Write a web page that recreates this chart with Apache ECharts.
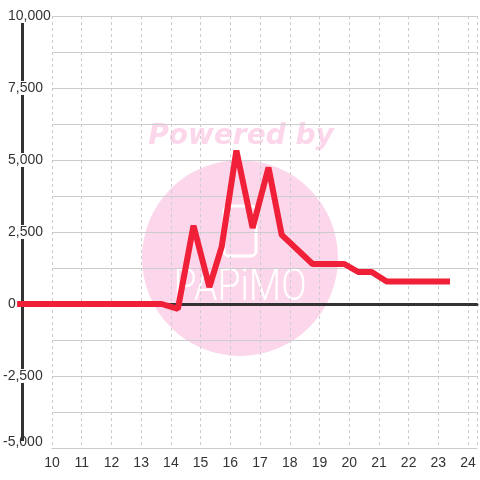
<!DOCTYPE html>
<html>
<head>
<meta charset="utf-8">
<style>html,body{margin:0;padding:0;background:#fff}#c{width:480px;height:480px}</style>
<script src="https://cdn.jsdelivr.net/npm/echarts@6/dist/echarts.min.js"></script>
</head>
<body>
<div id="c"></div>
<script>
const hours  = [8.87, 13.69, 14.23, 14.75, 15.28, 15.69, 16.18, 16.72, 17.25, 17.69, 18.72, 19.78, 20.24, 20.69, 21.19, 23.3];
const values = [0, 0, -170, 2720, 590, 1990, 5330, 2640, 4740, 2400, 1390, 1390, 1110, 1110, 780, 780];
const yTickStep = 2500;
const Y_MIN = -5000, Y_MAX = 10000;

const chart = echarts.init(document.getElementById('c'), null, {renderer: 'canvas'});
const data = hours.map((h, i) => [h, values[i]]);

// main grid: x 10..24.3 over 51..480 => 30 px per hour; the line grid extends 34px further left
const X_MIN = 10, X_MAX = 24.3, GRID_LEFT = 51, LINE_LEFT = 17;
const pxPerUnit = (480 - GRID_LEFT) / (X_MAX - X_MIN);
const lineMin = X_MIN - (GRID_LEFT - LINE_LEFT) / pxPerUnit;

const fmt = v => v.toLocaleString('en-US');

chart.setOption({
  animation: false,
  grid: [
    {left: GRID_LEFT, right: 0, top: 16, bottom: 32, containLabel: false},
    {left: LINE_LEFT, right: 0, top: 16, bottom: 32, containLabel: false}
  ],
  graphic: [
    {type: 'circle', z: -10, silent: true, shape: {cx: 240, cy: 258, r: 98}, style: {fill: '#fcd6ea'}},
    {type: 'text', z: -10, silent: true, style: {text: 'Powered by', x: 241, y: 137, font: 'italic bold 28px "DejaVu Sans"', fill: '#fcd6ea', align: 'center', verticalAlign: 'middle'}},
    {type: 'rect', z: -9, silent: true, shape: {x: 224, y: 206, width: 32, height: 50, r: 5}, style: {fill: 'none', stroke: '#ffffff', lineWidth: 3}},
    {type: 'text', z: -9, silent: true, x: 240, y: 289, scaleX: 0.85, style: {text: 'PAPiMO', x: 0, y: 0, font: '300 44px Roboto', fill: '#ffffff', align: 'center', verticalAlign: 'middle'}}
  ],
  xAxis: [
    {
      type: 'value', gridIndex: 0, min: X_MIN, max: X_MAX, interval: 1, z: 1,
      axisLine: {show: true, onZero: false, lineStyle: {color: '#cccccc', width: 1}},
      axisTick: {show: false},
      axisLabel: {fontSize: 14, color: '#333333', margin: 8, fontFamily: 'Liberation Sans',
        formatter: v => Number.isInteger(v) ? String(v) : ''},
      splitLine: {show: true, lineStyle: {color: '#cccccc', type: [3, 3], width: 1}}
    },
    {
      type: 'value', gridIndex: 0, min: X_MIN, max: X_MAX, z: 1,
      axisLine: {show: true, onZero: true, lineStyle: {color: '#333333', width: 3}},
      axisTick: {show: false}, axisLabel: {show: false}, splitLine: {show: false}
    },
    {
      type: 'value', gridIndex: 1, min: lineMin, max: X_MAX, show: false
    }
  ],
  yAxis: [
    {
      type: 'value', gridIndex: 0, min: Y_MIN, max: Y_MAX, interval: 1250, z: 1,
      axisLine: {show: false}, axisTick: {show: false},
      axisLabel: {fontSize: 14, color: '#333333', align: 'left', margin: 44, fontFamily: 'Liberation Sans',
        backgroundColor: '#ffffff', lineHeight: 14,
        formatter: v => (v % yTickStep === 0 && v >= 0) ? fmt(v) : ''},
      splitLine: {show: true, lineStyle: {color: '#cccccc', width: 1}}
    },
    {
      type: 'value', gridIndex: 0, min: Y_MIN, max: Y_MAX, interval: 1250, position: 'left', offset: 30, z: 0,
      axisLine: {show: true, lineStyle: {color: '#333333', width: 3}},
      axisTick: {show: false},
      axisLabel: {fontSize: 14, color: '#333333', align: 'left', margin: 19, fontFamily: 'Liberation Sans',
        backgroundColor: '#ffffff', lineHeight: 14,
        formatter: v => (v % yTickStep === 0 && v < 0) ? (v === Y_MIN ? '{low|' + fmt(v) + '}' : fmt(v)) : '',
        rich: {low: {fontSize: 14, color: '#333333', fontFamily: 'Liberation Sans', lineHeight: 14, padding: [0, 0, 12, 0]}}},
      splitLine: {show: false}
    },
    {
      type: 'value', gridIndex: 1, min: Y_MIN, max: Y_MAX, show: false
    }
  ],
  series: [{
    type: 'line', xAxisIndex: 2, yAxisIndex: 2, data: data, clip: false, z: 3,
    symbol: 'none', showSymbol: false,
    lineStyle: {color: '#ef2037', width: 6, join: 'bevel', cap: 'butt'}
  }]
});
</script>
</body>
</html>
